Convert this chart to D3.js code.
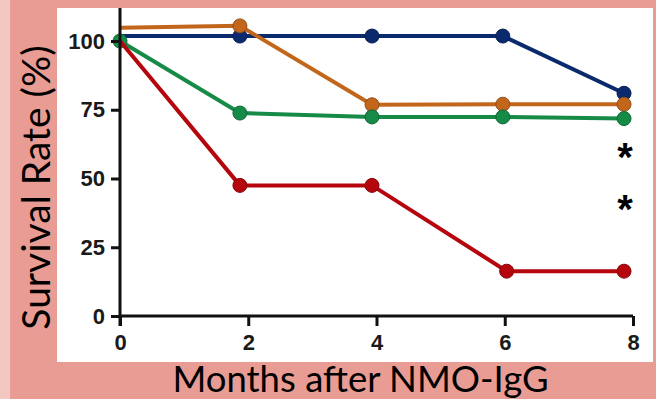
<!DOCTYPE html>
<html>
<head>
<meta charset="utf-8">
<script src="https://cdn.jsdelivr.net/npm/d3@7"></script>
<style>
html,body{margin:0;padding:0;background:#e99c93;}
svg{display:block;}
</style>
</head>
<body>
<svg id="chart" width="656" height="399"></svg>
<script>
// ---- data ----
const xTicks = [0, 2, 4, 6, 8];
const yTicks = [0, 25, 50, 75, 100];
const seriesNames = ["blue", "orange", "green", "red"];
const seriesColors = ["#0b2a6e", "#c2661c", "#168b48", "#b5060e"];
const blueX   = [0, 1.87, 3.93, 5.97, 7.86];
const blueY   = [101.8, 101.8, 101.8, 101.8, 81];
const orangeX = [0, 1.87, 3.93, 5.97, 7.86];
const orangeY = [104.8, 105.5, 76.8, 77, 77];
const greenX  = [0, 1.87, 3.93, 5.97, 7.86];
const greenY  = [100, 73.8, 72.4, 72.4, 71.8];
const redX    = [0, 1.87, 3.93, 6.03, 7.86];
const redY    = [100, 47.5, 47.5, 16.3, 16.3];
const showFirstDot = [false, false, true, false];
const asterisks = ["*", "*"];
const asteriskY = [60, 41];
const yTitle = "Survival Rate (%)";
const xTitle = "Months after NMO-IgG";

const svg = d3.select("#chart");
const W = 656, H = 399;

// backgrounds
svg.append("rect").attr("x",0).attr("y",0).attr("width",W).attr("height",H).attr("fill","#e99c93");
svg.append("rect").attr("x",0).attr("y",0).attr("width",10).attr("height",H).attr("fill","#f3c8c2");
svg.append("rect").attr("x",57).attr("y",8).attr("width",596).attr("height",354).attr("fill","#ffffff");

const x = d3.scaleLinear().domain([0, 8]).range([120, 633]);
const y = d3.scaleLinear().domain([0, 112]).range([316, 8]);

const series = [
  {xs: blueX, ys: blueY},
  {xs: orangeX, ys: orangeY},
  {xs: greenX, ys: greenY},
  {xs: redX, ys: redY}
].map((s, i) => ({name: seriesNames[i], color: seriesColors[i], first: showFirstDot[i],
  pts: s.xs.map((v, j) => ({x: v, y: s.ys[j]}))}));

const line = d3.line().x(d => x(d.x)).y(d => y(d.y));

series.forEach(s => {
  const g = svg.append("g");
  g.append("path").datum(s.pts).attr("d", line)
    .attr("fill","none").attr("stroke", s.color).attr("stroke-width", 4);
  g.selectAll("circle").data(s.pts.filter((d, j) => j > 0 || s.first)).join("circle")
    .attr("cx", d => x(d.x)).attr("cy", d => y(d.y)).attr("r", 7)
    .attr("fill", s.color).attr("stroke", d3.color(s.color).darker(0.8)).attr("stroke-width", 1);
});

// axes
const xAxis = d3.axisBottom(x).tickValues(xTicks).tickSize(10).tickPadding(8).tickFormat(d3.format("d"));
const yAxis = d3.axisLeft(y).tickValues(yTicks).tickSize(9).tickPadding(6).tickFormat(d3.format("d"));

const gx = svg.append("g").attr("transform", `translate(0,${y(0)})`).call(xAxis);
const gy = svg.append("g").attr("transform", `translate(${x(0)},0)`).call(yAxis);
[gx, gy].forEach(g => {
  g.select(".domain").attr("stroke","#111").attr("stroke-width",3);
  g.selectAll(".tick line").attr("stroke","#111").attr("stroke-width",3);
  g.selectAll(".tick text").attr("fill","#1a1a1a")
    .style("font-family","'Liberation Sans', Arial, sans-serif")
    .style("font-weight","bold").style("font-size","22px");
});
gx.select(".domain").attr("d", `M${x(0)},0H${x(8)}`);
gy.select(".domain").attr("d", `M0,${y(0)+10}V${y(112)}`);

// asterisks
svg.selectAll("text.ast").data(asterisks).join("text").attr("class","ast")
  .attr("x", x(7.86) + 1).attr("y", (d, i) => y(asteriskY[i]) + 20)
  .attr("text-anchor","middle")
  .style("font-family","'Liberation Sans', Arial, sans-serif")
  .style("font-weight","bold").style("font-size","40px").attr("fill","#000")
  .text(d => d);

// titles
svg.append("text").attr("x", 360.5).attr("y", 392).attr("text-anchor","middle")
  .style("font-family","Lato, 'Open Sans', sans-serif").style("font-size","36.5px").attr("fill","#000")
  .text(xTitle);
svg.append("text").attr("transform","translate(50,187.5) rotate(-90)").attr("text-anchor","middle")
  .style("font-family","Lato, 'Open Sans', sans-serif").style("font-size","39px").attr("fill","#000")
  .text(yTitle);
</script>
</body>
</html>
